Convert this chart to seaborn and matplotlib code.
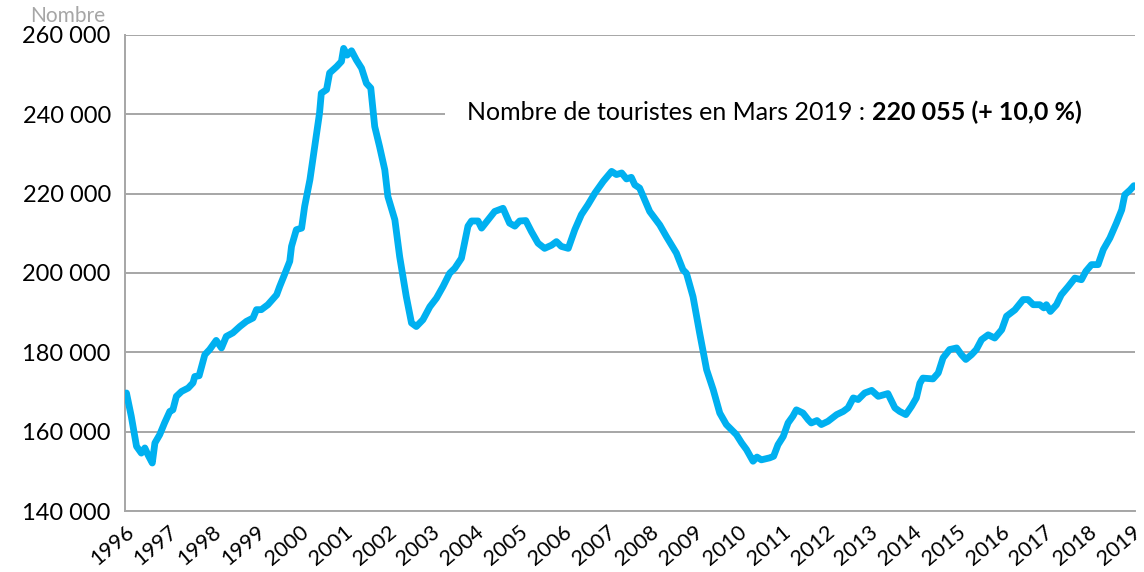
import matplotlib
matplotlib.use("Agg")
import matplotlib.pyplot as plt
import matplotlib.transforms as mtransforms
from matplotlib.offsetbox import TextArea, HPacker, AnnotationBbox
from matplotlib.patches import Rectangle
import seaborn as sns
import pandas as pd

# decimal year and number of tourists
years = [
    1996.04, 1996.15, 1996.27, 1996.38, 1996.46, 1996.53, 1996.63, 1996.69, 1996.80, 1996.91,
    1997.03, 1997.10, 1997.18, 1997.30, 1997.45, 1997.56, 1997.60, 1997.70, 1997.83, 1997.94,
    1998.09, 1998.21, 1998.32, 1998.47, 1998.63, 1998.78, 1998.93, 1999.01, 1999.12, 1999.27,
    1999.47, 1999.54, 1999.65, 1999.77, 1999.81, 1999.92, 2000.04, 2000.11, 2000.23, 2000.34,
    2000.45, 2000.49, 2000.61, 2000.68, 2000.84, 2000.95, 2001.00, 2001.08, 2001.18, 2001.29,
    2001.41, 2001.52, 2001.62, 2001.71, 2001.82, 2001.94, 2002.01, 2002.17, 2002.28, 2002.43,
    2002.55, 2002.66, 2002.81, 2002.97, 2003.12, 2003.27, 2003.42, 2003.54, 2003.69, 2003.84,
    2003.92, 2004.07, 2004.15, 2004.30, 2004.45, 2004.64, 2004.79, 2004.91, 2005.02, 2005.16,
    2005.29, 2005.44, 2005.59, 2005.75, 2005.86, 2005.97, 2006.13, 2006.28, 2006.43, 2006.58,
    2006.74, 2006.93, 2007.12, 2007.23, 2007.35, 2007.46, 2007.57, 2007.65, 2007.76, 2007.99,
    2008.22, 2008.37, 2008.60, 2008.75, 2008.83, 2008.98, 2009.13, 2009.29, 2009.44, 2009.59,
    2009.74, 2009.97, 2010.09, 2010.20, 2010.35, 2010.44, 2010.54, 2010.73, 2010.82, 2010.92,
    2011.04, 2011.15, 2011.26, 2011.34, 2011.49, 2011.61, 2011.68, 2011.81, 2011.91, 2012.06,
    2012.26, 2012.41, 2012.52, 2012.64, 2012.75, 2012.90, 2013.06, 2013.21, 2013.43, 2013.59,
    2013.70, 2013.84, 2013.97, 2014.08, 2014.16, 2014.23, 2014.46, 2014.58, 2014.69, 2014.84,
    2015.00, 2015.11, 2015.21, 2015.34, 2015.45, 2015.57, 2015.72, 2015.87, 2016.03, 2016.14,
    2016.33, 2016.52, 2016.63, 2016.75, 2016.90, 2016.99, 2017.05, 2017.14, 2017.28, 2017.39,
    2017.55, 2017.70, 2017.85, 2017.95, 2018.08, 2018.23, 2018.35, 2018.50, 2018.65, 2018.77,
    2018.84, 2018.96, 2019.05,
]
tourists = [
    169750, 163900, 156300, 154600, 155900, 154200, 152100, 157150, 159250, 162200,
    165100, 165500, 168900, 170150, 171000, 172300, 173900, 174100, 179400, 180700,
    183000, 181100, 184000, 184900, 186500, 187800, 188650, 190750, 190750, 192000,
    194500, 196600, 199600, 202950, 206700, 210900, 211300, 216800, 223500, 231900,
    240300, 245300, 246200, 250400, 252000, 253300, 256600, 254900, 256000, 253700,
    251600, 247800, 246600, 236900, 231900, 226000, 219300, 213400, 204100, 194100,
    187400, 186500, 188200, 191500, 193650, 196600, 199900, 201200, 203700, 211800,
    213100, 213100, 211300, 213400, 215500, 216300, 212550, 211800, 213100, 213200,
    210400, 207500, 206200, 207000, 207900, 206700, 206200, 210900, 214700, 217200,
    220150, 223100, 225600, 224800, 225200, 223700, 224100, 222200, 221400, 215500,
    212100, 209200, 205000, 200800, 199900, 194000, 184900, 175600, 170600, 164700,
    161800, 159250, 157150, 155500, 152550, 153600, 152900, 153400, 153800, 156700,
    158800, 162200, 163900, 165500, 164700, 163000, 162200, 162800, 161800, 162600,
    164300, 165100, 166000, 168500, 168100, 169750, 170400, 168900, 169600, 166000,
    165100, 164300, 166400, 168500, 172200, 173500, 173300, 174800, 178600, 180700,
    181100, 179400, 178200, 179400, 180700, 183200, 184400, 183600, 185700, 189100,
    190700, 193300, 193300, 192000, 192000, 191200, 192000, 190300, 192000, 194500,
    196600, 198700, 198300, 200400, 202100, 202100, 205900, 208800, 212600, 215900,
    219700, 220900, 222000,
]
year_ticks = list(range(1996, 2020))
y_ticks = [140000, 160000, 180000, 200000, 220000, 240000, 260000]
y_labels = ["140 000", "160 000", "180 000", "200 000", "220 000", "240 000", "260 000"]

df = pd.DataFrame({"Année": years, "Touristes": tourists})

sns.set_style("white")
plt.rcParams["font.family"] = ["Lato", "DejaVu Sans"]

grid_grey = "#A6A6A6"
line_blue = "#00B0F0"

fig = plt.figure(figsize=(11.44, 5.72), dpi=100)
ax = fig.add_axes([0.109, 0.1066, 0.883, 0.8324])

sns.lineplot(data=df, x="Année", y="Touristes", sort=False, estimator=None,
             color=line_blue, linewidth=4.9, solid_capstyle="round",
             solid_joinstyle="round", ax=ax, zorder=3)

ax.set_xlim(1996, 2019.07)
ax.set_ylim(140000, 260000)
ax.set_yticks(y_ticks)
ax.set_yticklabels(y_labels, fontsize=17)
ax.set_xticks(year_ticks)
ax.set_xticklabels([str(y) for y in year_ticks], fontsize=15.5, rotation=40,
                   ha="right", rotation_mode="anchor")
offset = mtransforms.ScaledTranslation(10 / 72, -3 / 72, fig.dpi_scale_trans)
for lbl in ax.get_xticklabels():
    lbl.set_transform(lbl.get_transform() + offset)

ax.set_xlabel("")
ax.set_ylabel("")
ax.set_axisbelow(True)
ax.grid(axis="y", color=grid_grey, linewidth=1.4)
ax.grid(axis="x", visible=False)

for side in ["top", "right"]:
    ax.spines[side].set_visible(False)
for side in ["left", "bottom"]:
    ax.spines[side].set_color(grid_grey)
    ax.spines[side].set_linewidth(1.4)
ax.tick_params(axis="both", which="major", direction="out", length=6,
               width=1.4, color=grid_grey, labelcolor="black")
ax.tick_params(axis="x", pad=2)
ax.tick_params(axis="y", pad=4)

# white band that hides the 240 000 gridline behind the annotation
ax.add_patch(Rectangle((0.317, 0.80), 0.70, 0.08, transform=ax.transAxes,
                       facecolor="white", edgecolor="none", zorder=1,
                       clip_on=False))

txt_regular = TextArea("Nombre de touristes en Mars 2019 : ",
                       textprops=dict(fontsize=18, color="black"))
txt_bold = TextArea("220 055 (+ 10,0 %)",
                    textprops=dict(fontsize=18, color="black", fontweight="bold"))
packed = HPacker(children=[txt_regular, txt_bold], align="baseline", pad=0, sep=0)
ab = AnnotationBbox(packed, (0.339, 0.838), xycoords="axes fraction",
                    box_alignment=(0, 0.5), frameon=False, zorder=4)
ax.add_artist(ab)

fig.text(0.026, 0.972, "Nombre", fontsize=15, color=grid_grey, ha="left", va="center")

fig.savefig("out.png", dpi=100)
